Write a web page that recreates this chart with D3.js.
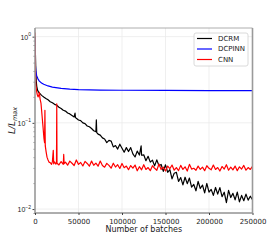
<!DOCTYPE html>
<html>
<head>
<meta charset="utf-8">
<script src="https://cdn.jsdelivr.net/npm/d3@7"></script>
<style>
  body { margin: 0; background: #fff; }
  svg { display: block; font-family: "DejaVu Sans", sans-serif; }
</style>
</head>
<body>
<svg id="chart" width="280" height="240"></svg>
<script>
// [batches, L/Lmax]
var dcrm = [[0,1.0],[500,0.62],[1000,0.38],[1500,0.30],[2000,0.265],[3000,0.238],[4000,0.228],[5000,0.222],[6500,0.214],[8000,0.207],[10000,0.200],[12500,0.192],
  [15000,0.185],[17500,0.176],[20000,0.171],[22500,0.164],[25000,0.160],[27500,0.152],[30000,0.147],[32500,0.140],[35000,0.137],[37500,0.130],[40000,0.127],[42500,0.122],[45000,0.117],[46000,0.130],[46500,0.115],[47500,0.113],[50000,0.108],[52500,0.106],[55000,0.100],[57500,0.098],[60000,0.092],[62500,0.090],[65000,0.086],[67500,0.081],[70000,0.079],[70500,0.108],[71000,0.077],[72500,0.074],[75000,0.072],[77500,0.067],
  [80000,0.065],[82500,0.059],[85000,0.0625],[87500,0.0615],[90000,0.0526],[92500,0.0546],[95000,0.0496],[97500,0.0566],[100000,0.0508],[102500,0.0457],[105000,0.0516],[107500,0.0465],[110000,0.0516],[112500,0.0437],[115000,0.0402],[117500,0.047],[120000,0.0423],[122000,0.054],[122500,0.0421],[125000,0.0426],[127500,0.0364],[130000,0.0409],[132500,0.035],[135000,0.0369],[137500,0.0317],[140000,0.0372],[142500,0.0318],[145000,0.0329],[147500,0.0274],[150000,0.0326],[152500,0.0267],[155000,0.0286],[157500,0.0224],[160000,0.026],[162500,0.0267],[165000,0.0209],[167500,0.0232],[170000,0.0191],[172500,0.0234],[175000,0.0197],[177500,0.0229],[180000,0.018],[182500,0.0193],[185000,0.0163],[187500,0.0209],[190000,0.0173],[192500,0.019],[195000,0.0154],[197500,0.0198],[200000,0.0157],[202500,0.0169],[205000,0.0144],[207500,0.0178],[210000,0.0149],[212500,0.0177],[215000,0.0139],[217500,0.0157],[220000,0.0119],[222500,0.0165],[225000,0.0136],[227500,0.0152],[230000,0.0128],[232500,0.0157],[235000,0.0121],[237500,0.0144],[240000,0.0125],[242500,0.0149],[245000,0.0127],[247500,0.0141],[250000,0.0128]]

var dcpinn = [[0,1.0],[200,0.62],[500,0.46],[1000,0.395],[2000,0.35],[3500,0.322],[5000,0.305],[7500,0.29],[10000,0.28],[15000,0.268],[20000,0.26],[30000,0.251],[40000,0.246],[50000,0.243],[75000,0.240],[100000,0.239],[150000,0.238],[200000,0.237],[250000,0.236]]

var cnn = [[0,1.12],[300,0.52],[800,0.29],[1500,0.245],[2500,0.215],[3500,0.2],[4500,0.212],[5000,0.226],[5800,0.19],[6900,0.168],[8000,0.125],[9200,0.09],[10300,0.066],[11000,0.059],[11400,0.14],[11800,0.054],[12800,0.046],[13800,0.040],[15000,0.037],[16200,0.035],[17500,0.0345],[19000,0.033],[20000,0.0355],[21000,0.048],[21500,0.0335],[22500,0.0352],[24000,0.0332],[24700,0.0345],[25000,0.166],[25300,0.0342],[26000,0.0335],[27500,0.0325],[30000,0.0356],[32500,0.0330],[33000,0.043],[33500,0.0336],
  [35000,0.0350],[37500,0.0323],[40000,0.0360],[42500,0.0340],[45000,0.0320],[47500,0.0371],[50000,0.0330],[52500,0.0347],[55000,0.0316],[57500,0.0357],[60000,0.0338],[62500,0.0314],[65000,0.0360],[67500,0.0322],[70000,0.0341],[72500,0.0314],[75000,0.0361],[77500,0.0320],[80000,0.0306],[82500,0.0339],[85000,0.0321],[87500,0.0298],[90000,0.0340],[92500,0.0307],[95000,0.0327],[97500,0.0296],[100000,0.0338],[102500,0.0302],[105000,0.0315],[107500,0.0286],[110000,0.0320],[112500,0.0298],[115000,0.0324],[117500,0.0278],[120000,0.0310],
  [122500,0.0285],[125000,0.0327],[127500,0.0288],[130000,0.0303],[132500,0.0279],[135000,0.0318],[137500,0.0297],[140000,0.0282],[142500,0.0333],[145000,0.0288],[147500,0.0306],[150000,0.0276],[152500,0.0315],[155000,0.0294],[157500,0.0324],[160000,0.0282],[162500,0.0303],[165000,0.0279],[167500,0.0321],[170000,0.0288],[172500,0.0309],[175000,0.0276],[177500,0.0330],[180000,0.0291],[182500,0.0297],[185000,0.0282],[187500,0.0315],[190000,0.0288],[192500,0.0306],[195000,0.0279],[197500,0.0318],[200000,0.0297],[202500,0.0285],[205000,0.0324],[207500,0.0288],[210000,0.0303],[212500,0.0276],[215000,0.0312],[217500,0.0291],[220000,0.0327],[222500,0.0282],[225000,0.0306],[227500,0.0285],[230000,0.0315],[232500,0.0279],[235000,0.0309],[237500,0.0291],[240000,0.0321],[242500,0.0282],[245000,0.0303],[247500,0.0288],[250000,0.0312]]

var seriesNames = ["DCRM", "DCPINN", "CNN"]
var seriesColors = ["#000000", "#0000ff", "#ff0000"]
var xTicks = [0, 50000, 100000, 150000, 200000, 250000]
var yTicks = [0.01, 0.1, 1]
var yExps = ["\u22122", "\u22121", "0"]

var width = 280, height = 240
var margin = {top: 28, right: 27.5, bottom: 27, left: 35}

var x = d3.scaleLinear()
  .domain([0, 250000])
  .range([margin.left, width - margin.right])

var y = d3.scaleLog()
  .domain([0.009, 1.26])
  .range([height - margin.bottom, margin.top])

var svg = d3.select("#chart")

svg.append("defs").append("clipPath").attr("id", "clip")
  .append("rect")
    .attr("x", margin.left).attr("y", margin.top)
    .attr("width", width - margin.left - margin.right)
    .attr("height", height - margin.top - margin.bottom)

// grid
svg.append("g")
  .attr("stroke", "#ebebeb").attr("stroke-width", 0.8)
  .call(g => g.selectAll(".vx").data(xTicks).join("line")
    .attr("x1", d => x(d)).attr("x2", d => x(d))
    .attr("y1", margin.top).attr("y2", height - margin.bottom))
  .call(g => g.selectAll(".hy").data(yTicks).join("line")
    .attr("x1", margin.left).attr("x2", width - margin.right)
    .attr("y1", d => y(d)).attr("y2", d => y(d)))

var line = d3.line().x(d => x(d[0])).y(d => y(d[1]))

svg.append("g")
  .attr("clip-path", "url(#clip)")
  .attr("fill", "none")
  .attr("stroke-width", 1.2)
  .attr("stroke-linejoin", "round")
  .selectAll("path")
  .data([dcrm, dcpinn, cnn])
  .join("path")
    .attr("stroke", (d, i) => seriesColors[i])
    .attr("d", line)

// x axis
svg.append("g")
  .attr("transform", `translate(0,${height - margin.bottom})`)
  .call(d3.axisBottom(x).tickValues(xTicks).tickFormat(d => d).tickSize(2).tickSizeOuter(0))
  .call(g => g.select(".domain").remove())
  .call(g => g.selectAll("text").attr("font-size", 7).attr("font-family", "DejaVu Sans").attr("fill", "#222").attr("dy", "0.8em"))
  .call(g => g.selectAll("line").attr("stroke", "#444"))

// y axis, minor then major
var minor = y.ticks().filter(d => yTicks.indexOf(d) < 0)
svg.append("g")
  .attr("transform", `translate(${margin.left},0)`)
  .call(d3.axisLeft(y).tickValues(minor).tickFormat("").tickSize(1.5).tickSizeOuter(0))
  .call(g => g.select(".domain").remove())
  .call(g => g.selectAll("line").attr("stroke", "#444").attr("stroke-width", 0.6))

var yAxis = svg.append("g")
  .attr("transform", `translate(${margin.left},0)`)
  .call(d3.axisLeft(y).tickValues(yTicks).tickFormat("").tickSize(2.5).tickSizeOuter(0))
  .call(g => g.select(".domain").remove())
  .call(g => g.selectAll("line").attr("stroke", "#444"))

yAxis.selectAll(".tick").append("text")
  .attr("x", -4).attr("dy", "0.35em")
  .attr("text-anchor", "end")
  .attr("font-size", 7).attr("fill", "#222")
  .call(t => t.append("tspan").text("10"))
  .call(t => t.append("tspan").attr("font-size", 5).attr("dy", "-0.7em").text((d, i) => yExps[i]))

// spines
svg.append("line").attr("x1", margin.left).attr("x2", width - margin.right)
  .attr("y1", margin.top).attr("y2", margin.top).attr("stroke", "#9a9a9a").attr("stroke-width", 0.8)
svg.append("line").attr("x1", margin.left).attr("x2", width - margin.right)
  .attr("y1", height - margin.bottom).attr("y2", height - margin.bottom).attr("stroke", "#333").attr("stroke-width", 0.8)
svg.append("line").attr("x1", margin.left).attr("x2", margin.left)
  .attr("y1", margin.top).attr("y2", height - margin.bottom).attr("stroke", "#9a9a9a").attr("stroke-width", 1.6)
svg.append("line").attr("x1", width - margin.right).attr("x2", width - margin.right)
  .attr("y1", margin.top).attr("y2", height - margin.bottom).attr("stroke", "#9a9a9a").attr("stroke-width", 1.6)

// labels
svg.append("text")
  .attr("x", (margin.left + width - margin.right) / 2).attr("y", 232)
  .attr("text-anchor", "middle").attr("font-size", 8).attr("fill", "#222")
  .text("Number of batches")

var yl = svg.append("text")
  .attr("transform", `translate(15,${(margin.top + height - margin.bottom) / 2}) rotate(-90)`)
  .attr("text-anchor", "middle").attr("font-size", 9).attr("fill", "#222")
yl.append("tspan").attr("font-style", "italic").text("L/L")
yl.append("tspan").attr("font-style", "italic").attr("font-size", 6.5).attr("dy", "0.3em").text("max")

// legend
var legend = svg.append("g").attr("transform", "translate(194,33)")
legend.append("rect")
  .attr("width", 54).attr("height", 33).attr("rx", 2)
  .attr("fill", "#fff").attr("fill-opacity", 0.85)
  .attr("stroke", "#d0d0d0").attr("stroke-width", 0.8)
var item = legend.selectAll(".item").data(seriesNames).join("g")
  .attr("transform", (d, i) => `translate(0,${5.5 + i * 10.5})`)
item.append("line")
  .attr("x1", 3).attr("x2", 18)
  .attr("stroke", (d, i) => seriesColors[i]).attr("stroke-width", 1.2)
item.append("text")
  .attr("x", 24).attr("dy", "0.35em")
  .attr("font-size", 7).attr("fill", "#222")
  .text(d => d)
</script>
</body>
</html>
